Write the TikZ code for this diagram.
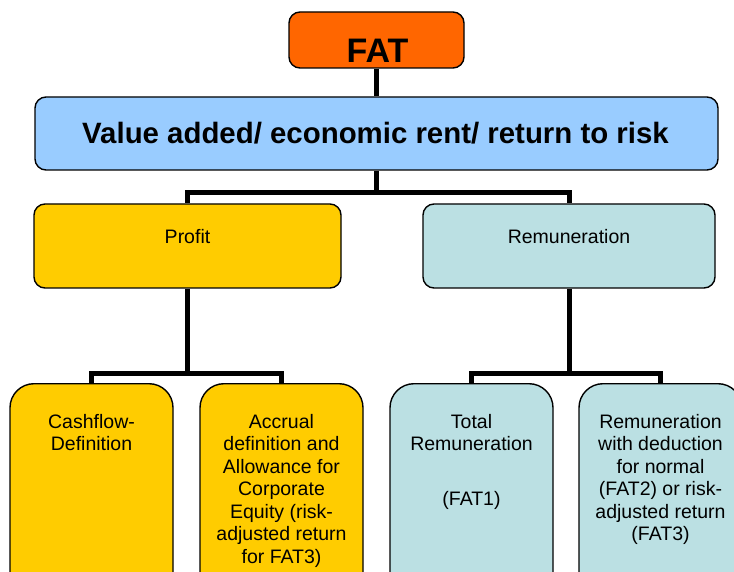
\documentclass[tikz,border=0pt]{standalone}
\usepackage{fontspec}
\setmainfont{Liberation Sans}
\definecolor{fatorange}{RGB}{255,102,0}
\definecolor{valblue}{RGB}{153,204,255}
\definecolor{profy}{RGB}{255,204,0}
\definecolor{remb}{RGB}{187,224,227}
\begin{document}
\begin{tikzpicture}[x=1pt,y=-1pt,
 box/.style={draw=black, line width=1.4pt, rounded corners=11pt, inner sep=0pt},
 lowbox/.style={draw=black, line width=1.4pt, rounded corners=24pt, inner sep=0pt, minimum width=163pt, minimum height=260pt, anchor=north},
 conn/.style={draw=black, line width=5pt},
 lbl/.style={anchor=base, inner sep=0pt, font=\fontsize{19.5}{22.5}\selectfont},
 lowtxt/.style={anchor=north, align=center, inner sep=0pt, font=\fontsize{19.5}{22.5}\selectfont},
]
\useasboundingbox (0,0) rectangle (734,572);
\clip (0,0) rectangle (734,572);
\node[box, fill=fatorange, minimum width=175pt, minimum height=56pt] (fat) at (376.5,40) {};
\node[anchor=base, inner sep=0pt, font=\bfseries\fontsize{34}{36}\selectfont] (fatlbl) at (377.5,63) {FAT};
\node[box, fill=valblue, minimum width=683pt, minimum height=73pt] (val) at (376.5,133.5) {};
\node[anchor=base, inner sep=0pt, font=\bfseries\fontsize{29.4}{32}\selectfont] (vallbl) at (375.5,143.5) {Value added/ economic rent/ return to risk};
\node[box, fill=profy, minimum width=307pt, minimum height=84pt] (prof) at (187.5,246) {};
\node[lbl] (proflbl) at (187.5,244) {Profit};
\node[box, fill=remb, minimum width=292pt, minimum height=84pt] (rem) at (569,246) {};
\node[lbl] (remlbl) at (569,244) {Remuneration};
\node[lowbox, fill=profy] (cash) at (91.5,383) {};
\node[lowbox, fill=profy] (accr) at (281.5,383) {};
\node[lowbox, fill=remb] (tot) at (471.5,383) {};
\node[lowbox, fill=remb] (remd) at (660.5,383) {};
\node[lowtxt] (cashlbl) at (91.5,414) {Cashflow-\\Definition};
\node[lowtxt] (accrlbl) at (281.5,414) {Accrual\\definition and\\Allowance for\\Corporate\\Equity (risk-\\adjusted return\\for FAT3)};
\node[lowtxt] (totlbl) at (471.5,414) {Total\\Remuneration\\[32pt](FAT1)};
\node[lowtxt] (remdlbl) at (660.5,414) {Remuneration\\with deduction\\for normal\\(FAT2) or risk-\\adjusted return\\(FAT3)};
\draw[conn] (fat.south) -- (val.north);
\draw[conn] (val.south) -- ++(0,22) coordinate (j1) -| (prof.north);
\draw[conn] (j1) -| (rem.north);
\draw[conn] (prof.south) -- ++(0,85) coordinate (j2) -| (cash.north);
\draw[conn] (j2) -| (accr.north);
\draw[conn] (rem.south) -- ++(0,85) coordinate (j3) -| (tot.north);
\draw[conn] (j3) -| (remd.north);
\end{tikzpicture}
\end{document}
